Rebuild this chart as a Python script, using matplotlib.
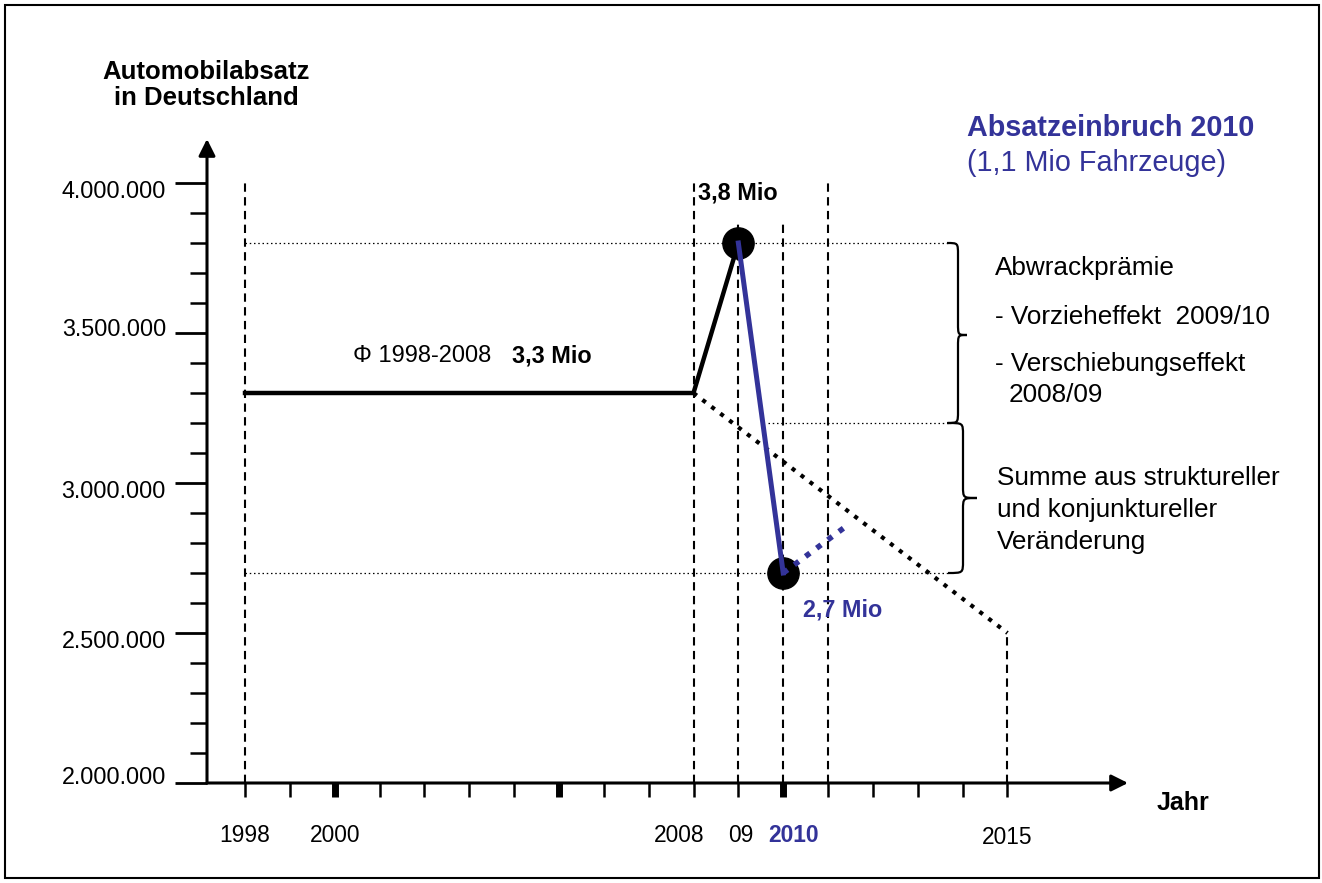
import matplotlib
matplotlib.use("Agg")
import matplotlib.pyplot as plt
from matplotlib.path import Path
from matplotlib.patches import PathPatch, Rectangle

plt.rcParams['font.family'] = ['Liberation Sans', 'DejaVu Sans']

# ---------------- data ----------------
avg_years = [1998, 2008, 2009]
avg_values = [3300000, 3300000, 3800000]
drop_years = [2009, 2010]
drop_values = [3800000, 2700000]
recovery_years = [2010, 2011.35]
recovery_values = [2700000, 2850000]
trend_years = [2008, 2015]
trend_values = [3300000, 2500000]
point_years = [2009, 2010]
point_values = [3800000, 2700000]

guide_years = [1998, 2008, 2009, 2010, 2011, 2015]
guide_tops = [4000000, 4000000, 3870000, 3870000, 4000000, 2500000]

ref_values = [3800000, 3200000, 2700000]
ref_starts = [1998, 2009.65, 1998]

y_major = [2000000, 2500000, 3000000, 3500000, 4000000]
y_major_labels = ["2.000.000", "2.500.000", "3.000.000", "3.500.000", "4.000.000"]
y_minor = [v for v in range(2000000, 4000001, 100000) if v not in y_major]
x_tick_years = list(range(1998, 2016))
x_bold_ticks = [2000, 2005, 2010]
x_label_years = [1998, 2000, 2008, 2009, 2010, 2015]
x_labels = ["1998", "2000", "2008", "09", "2010", "2015"]

BLUE = "#333399"

# ---------------- layout helpers (pixel -> data) ----------------
W, H = 1322, 883
def yr(px):
    return 1998 + (px - 245) / 44.85
def val(py):
    return 2000000 + (783 - py) / 150 * 500000
def px_of_year(y):
    return 245 + (y - 1998) * 44.85
def py_of_val(v):
    return 783 - (v - 2000000) / 500000 * 150

fig = plt.figure(figsize=(W / 100, H / 100), dpi=100)
ax = fig.add_axes([0, 0, 1, 1])
ax.set_xlim(yr(0), yr(W))
ax.set_ylim(val(H), val(0))
ax.axis('off')

def ftext(px, py, s, **kw):
    fig.text(px / W, 1 - py / H, s, **kw)

# frame
fig.patches.append(Rectangle((5 / W, 1 - 878 / H), (1319 - 5) / W, (878 - 5) / H,
                             transform=fig.transFigure, fill=False, lw=1.5,
                             edgecolor='black'))

AX_X = yr(207)
# axes with arrows
ax.annotate('', xy=(AX_X, val(139)), xytext=(AX_X, 2000000),
            arrowprops=dict(arrowstyle='-|>', lw=2.2, color='black',
                            mutation_scale=25, shrinkA=0, shrinkB=0))
ax.annotate('', xy=(yr(1128), 2000000), xytext=(AX_X, 2000000),
            arrowprops=dict(arrowstyle='-|>', lw=2.2, color='black',
                            mutation_scale=25, shrinkA=0, shrinkB=0))

# y ticks
for v in y_major:
    ax.plot([yr(175), AX_X], [v, v], color='black', lw=2.0, solid_capstyle='butt')
for v in y_minor:
    ax.plot([yr(190), AX_X], [v, v], color='black', lw=1.8, solid_capstyle='butt')
label_dy = [-5, 8, 9, -4, 9]
for v, s, d in zip(y_major, y_major_labels, label_dy):
    ftext(166, py_of_val(v) + d, s, ha='right', va='center', fontsize=16.8)

# x ticks
for y in x_tick_years:
    lw = 5.0 if y in x_bold_ticks else 1.8
    ax.plot([y, y], [2000000, val(797)], color='black', lw=lw, solid_capstyle='butt')
label_dx = [0, 0, -14, 2, 10, 0]
label_y = [835, 835, 835, 835, 835, 838]
for y, s, dx, ly in zip(x_label_years, x_labels, label_dx, label_y):
    bold = (s == "2010")
    ftext(px_of_year(y) + dx, ly, s, ha='center', va='center',
          fontsize=16.4, color=BLUE if bold else 'black',
          fontweight='bold' if bold else 'normal')

# dashed guides
for y, top in zip(guide_years, guide_tops):
    ax.plot([y, y], [2000000, top], color='black', lw=1.5,
            linestyle=(0, (4, 2.6)), zorder=1)

# fine dotted reference lines
for v, s in zip(ref_values, ref_starts):
    ax.plot([s, yr(948)], [v, v], color='black', lw=0.9,
            linestyle=(0, (1.2, 2.2)), zorder=1)

# braces
def brace(x_end, x_mid, x_tip, v_top, v_bot, py_mid, r=12):
    yt, yb, ym = py_of_val(v_top), py_of_val(v_bot), py_mid
    pts = [(x_end, yt),
           (x_mid, yt), (x_mid, yt), (x_mid, yt + r),
           (x_mid, ym - r),
           (x_mid, ym), (x_mid, ym), (x_tip, ym),
           (x_mid, ym), (x_mid, ym), (x_mid, ym + r),
           (x_mid, yb - r),
           (x_mid, yb), (x_mid, yb), (x_end, yb)]
    codes = [Path.MOVETO] + [Path.CURVE4] * 3 + [Path.LINETO] + [Path.CURVE4] * 6 + \
            [Path.LINETO] + [Path.CURVE4] * 3
    verts = [(yr(x), val(y)) for x, y in pts]
    ax.add_patch(PathPatch(Path(verts, codes), fill=False, lw=1.6, edgecolor='black'))

brace(947, 958, 967, 3800000, 3200000, 335)
brace(948, 963, 977, 3200000, 2700000, 498)

# trend
ax.plot(trend_years, trend_values, color='black', lw=3.0,
        linestyle=(0, (1, 1.7)), zorder=2)
# average + rise
ax.plot(avg_years, avg_values, color='black', lw=3.2, zorder=3,
        solid_joinstyle='miter')
# points
ax.plot(point_years, point_values, 'o', color='black', markersize=22.5, zorder=4)
# drop
ax.plot(drop_years, drop_values, color=BLUE, lw=3.6, zorder=5)
ax.plot(recovery_years, recovery_values, color=BLUE, lw=4.0,
        linestyle=(0, (1, 1.5)), zorder=5)

# texts
ftext(206, 85, "Automobilabsatz\nin Deutschland", ha='center', va='center',
      fontsize=18.5, fontweight='bold', linespacing=1.15)
ftext(698, 193, "3,8 Mio", ha='left', va='center', fontsize=16.8, fontweight='bold')
ftext(353, 356, "\u03a6 1998-2008", ha='left', va='center', fontsize=17)
ftext(512, 356, "3,3 Mio", ha='left', va='center', fontsize=16.8, fontweight='bold')
ftext(803, 610, "2,7 Mio", ha='left', va='center', fontsize=16.8,
      fontweight='bold', color=BLUE)
ftext(967, 128, "Absatzeinbruch 2010", ha='left', va='center', fontsize=20.7,
      fontweight='bold', color=BLUE)
ftext(967, 163, "(1,1 Mio Fahrzeuge)", ha='left', va='center', fontsize=20.7,
      color=BLUE)
ftext(995, 268, "Abwrackprämie", ha='left', va='center', fontsize=18.8)
ftext(995, 317, "- Vorzieheffekt  2009/10", ha='left', va='center', fontsize=18.8)
ftext(995, 364, "- Verschiebungseffekt", ha='left', va='center', fontsize=18.8)
ftext(1009, 395, "2008/09", ha='left', va='center', fontsize=18.8)
ftext(997, 478, "Summe aus struktureller", ha='left', va='center', fontsize=18.8)
ftext(997, 510, "und konjunktureller", ha='left', va='center', fontsize=18.8)
ftext(997, 542, "Veränderung", ha='left', va='center', fontsize=18.8)
ftext(1157, 803, "Jahr", ha='left', va='center', fontsize=18, fontweight='bold')

fig.savefig("out.png", dpi=100)
